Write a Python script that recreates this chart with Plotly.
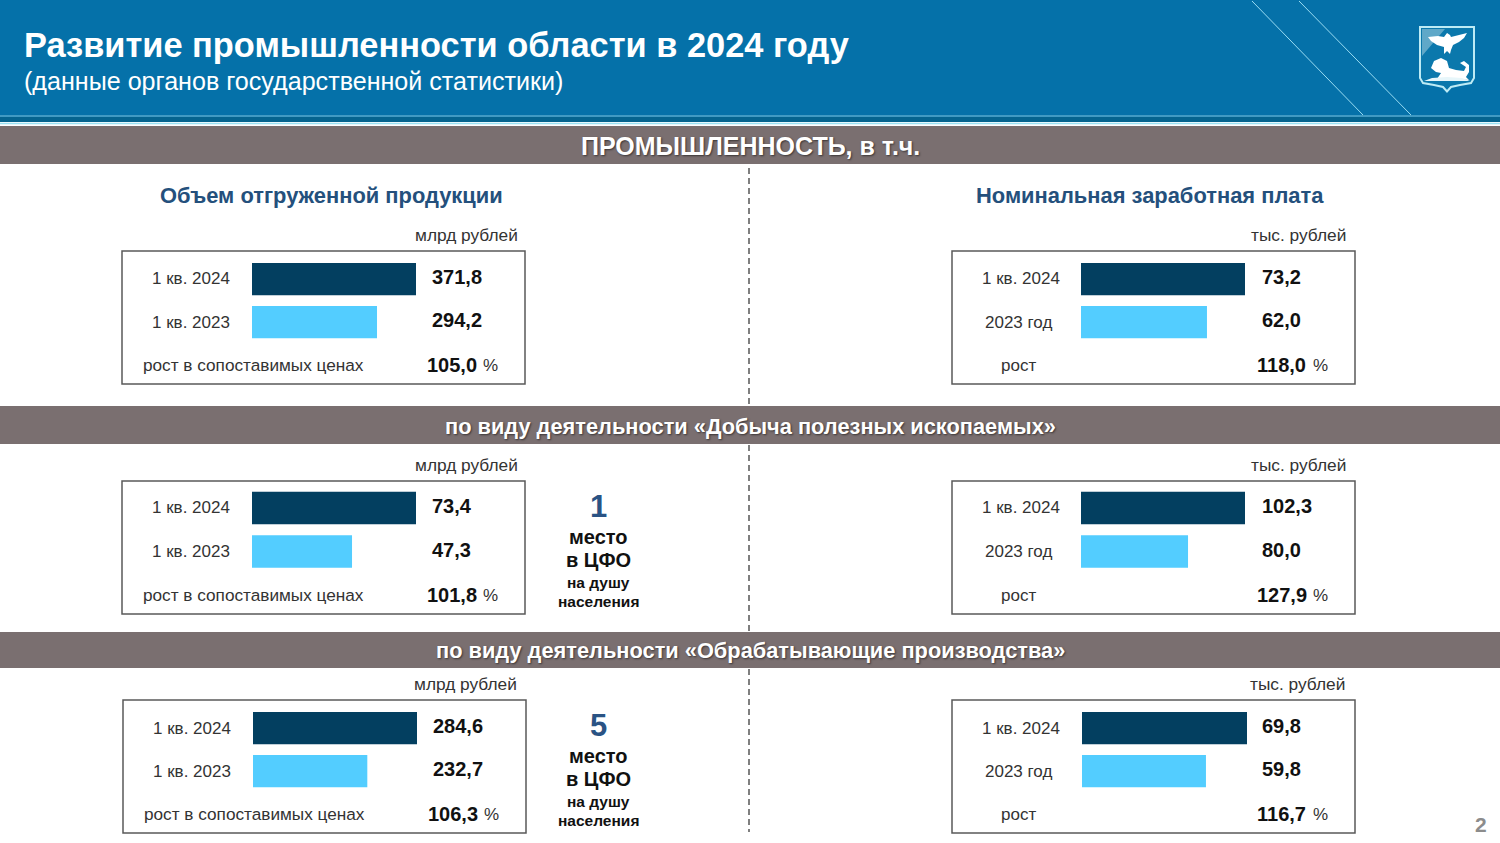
import plotly.graph_objects as go

W, H = 1500, 843

title_text = "Развитие промышленности области в 2024 году"
subtitle_text = "(данные органов государственной статистики)"
banner_texts = ["ПРОМЫШЛЕННОСТЬ, в т.ч.",
                "по виду деятельности «Добыча полезных ископаемых»",
                "по виду деятельности «Обрабатывающие производства»"]
column_titles = ["Объем отгруженной продукции", "Номинальная заработная плата"]

left_cats = ["1 кв. 2024", "1 кв. 2023"]
right_cats = ["1 кв. 2024", "2023 год"]
left_unit = "млрд рублей"
right_unit = "тыс. рублей"
left_growth_label = "рост в сопоставимых ценах"
right_growth_label = "рост"

shipped_total = [371.8, 294.2]
wage_total = [73.2, 62.0]
shipped_mining = [73.4, 47.3]
wage_mining = [102.3, 80.0]
shipped_manuf = [284.6, 232.7]
wage_manuf = [69.8, 59.8]
growth = [105.0, 118.0, 101.8, 127.9, 106.3, 116.7]

# the source chart's value axes do not start at zero
axis_starts = [45.4, 24.9, 6.5, 38.1, 113.3, 29.6]

rank_numbers = ["1", "5"]
rank_lines = ["место", "в ЦФО", "на душу", "населения"]
page_number = "2"

BLUE = "#0571A9"
GREY = "#7A6F70"
NAVY = "#033F60"
SKY = "#53CDFF"
TITLE_BLUE = "#24507C"
FONT = "Liberation Sans"


def px(x):
    return x / W


def py(y):
    return 1 - y / H


def comma(v):
    return f"{v:.1f}".replace(".", ",")


shapes, annotations = [], []


def rect(x0, y0, x1, y1, fill=None, line=None, lw=0):
    shapes.append(dict(type="rect", xref="paper", yref="paper", x0=px(x0), x1=px(x1), y0=py(y1), y1=py(y0),
                       fillcolor=fill or "rgba(0,0,0,0)", line=dict(color=line or "rgba(0,0,0,0)", width=lw),
                       layer="below"))


def seg(x0, y0, x1, y1, color, lw=1, dash="solid"):
    shapes.append(dict(type="line", xref="paper", yref="paper", x0=px(x0), x1=px(x1), y0=py(y0), y1=py(y1),
                       line=dict(color=color, width=lw, dash=dash), layer="below"))


def poly(points, fill, line=None, lw=0, close=True):
    d = "M" + " L".join(f"{px(a):.5f},{py(b):.5f}" for a, b in points) + (" Z" if close else "")
    shapes.append(dict(type="path", xref="paper", yref="paper", path=d, fillcolor=fill,
                       line=dict(color=line or "rgba(0,0,0,0)", width=lw), layer="above"))


def text(x, y, s, size, color="#333333", bold=False, anchor="left", shadow=None):
    font = dict(family=FONT, size=size, color=color, weight="bold" if bold else "normal")
    if shadow:
        font["shadow"] = shadow
    annotations.append(dict(x=px(x), y=py(y), xref="paper", yref="paper", text=s, showarrow=False,
                            xanchor=anchor, yanchor="middle", font=font, borderpad=0, borderwidth=0))


# header
rect(0, 0, W, 117, BLUE)
rect(0, 117, W, 122, "#05648F")
rect(0, 122, W, 126, "#FFFFFF")
seg(0, 116, W, 116, "#55A9CC", 1.5)
seg(0, 123.5, W, 123.5, "#9BE3F5", 1.5)
seg(1252, 1, 1363, 115, "#9ADCF2", 1)
seg(1299, 1, 1411, 115, "#9ADCF2", 1)
text(24, 45, title_text, 34.4, "#FFFFFF", True)
text(24, 81, subtitle_text, 25.1, "#FFFFFF")

# emblem
poly([(1420, 27), (1474, 27), (1474, 78), (1471, 83), (1460, 85), (1451, 87), (1447, 91.5),
      (1443, 87), (1434, 85), (1423, 83), (1420, 78)], "#0B78AC", "#BDEBF5", 2)
poly([(1422, 29), (1445, 29), (1422, 56)], "#5FA8C8")
poly([(1428, 37), (1438, 36), (1444, 37), (1447, 33), (1450, 35), (1451, 37), (1459, 35), (1467, 33),
      (1464, 38), (1459, 42), (1453, 45), (1451, 50), (1450, 54), (1447, 51), (1444, 54), (1444, 47),
      (1437, 45), (1431, 41)], "#FFFFFF")
poly([(1431, 68), (1434, 61), (1441, 58), (1447, 61), (1449, 68), (1456, 70), (1464, 71), (1466, 67),
      (1460, 63), (1464, 61), (1469, 65), (1469, 72), (1466, 77), (1469, 80), (1455, 79), (1445, 78),
      (1437, 79), (1441, 73), (1436, 72)], "#FFFFFF")
poly([(1424, 81), (1432, 78), (1447, 77), (1462, 78), (1470, 81), (1447, 81)], "#E7F6FA")

# section banners
banners = [(126, 164, 146, 25), (406, 444, 426, 21.8), (632, 668, 650, 21.8)]
for (y0, y1, yc, size), s in zip(banners, banner_texts):
    rect(0, y0, W, y1, GREY)
    text(750, yc, s, size, "#FFFFFF", True, "center", "1px 1px 2px #3A3536")

# column titles and divider
text(331, 195.5, column_titles[0], 21.9, TITLE_BLUE, True, "center")
text(1150, 195.5, column_titles[1], 21.9, TITLE_BLUE, True, "center")
for a, b in [(168, 405), (445, 631), (669, 832)]:
    seg(749, a, 749, b, "#555555", 1.5, "6px,4px")

# panels: box left, box top, bar left, centres of the two bars
panels = [
    (122, 251, 252, (279, 322), left_cats, shipped_total, left_unit, left_growth_label, 518, 416),
    (952, 251, 1081, (279, 322), right_cats, wage_total, right_unit, right_growth_label, 1346, 1245),
    (122, 481, 252, (508, 551.5), left_cats, shipped_mining, left_unit, left_growth_label, 518, 416),
    (952, 481, 1081, (508, 551.5), right_cats, wage_mining, right_unit, right_growth_label, 1346, 1245),
    (123, 700, 253, (728, 771), left_cats, shipped_manuf, left_unit, left_growth_label, 517, 417),
    (952, 700, 1082, (728, 771), right_cats, wage_manuf, right_unit, right_growth_label, 1345, 1247),
]

fig = go.Figure()
for i, (bx, by, bar_l, (c1, c2), cats, vals, unit, glabel, unit_r, bar_r) in enumerate(panels):
    n = i + 1
    suffix = "" if n == 1 else str(n)
    pitch = c2 - c1
    rect(bx, by, bx + 403, by + 133, "#FFFFFF", "#595959", 1.5)
    fig.add_trace(go.Bar(y=cats, x=vals, orientation="h", xaxis=f"x{suffix}", yaxis=f"y{suffix}",
                         marker=dict(color=[NAVY, SKY], line=dict(width=0)), width=0.75,
                         showlegend=False, hoverinfo="x+y"))
    fig.update_layout(**{
        f"xaxis{suffix}": dict(domain=[px(bar_l), px(bar_r)], range=[axis_starts[i], vals[0]], visible=False,
                               anchor=f"y{suffix}", fixedrange=True),
        f"yaxis{suffix}": dict(domain=[py(c2 + pitch / 2), py(c1 - pitch / 2)], type="category",
                               categoryorder="array", categoryarray=cats, autorange="reversed",
                               visible=False, anchor=f"x{suffix}", fixedrange=True),
    })
    text(unit_r, by - 16, unit, 17.3, "#333333", False, "right")
    col_c = bx + 68.5
    text(col_c, c1, cats[0], 17, "#333333", False, "center")
    text(col_c - (2 if i % 2 else 0), c2, cats[1], 17, "#333333", False, "center")
    vx = bx + 310
    text(vx, c1 - 2, comma(vals[0]), 20, "#111111", True)
    text(vx, c2 - 2, comma(vals[1]), 20, "#111111", True)
    gy = by + 114
    if i % 2 == 0:
        text(bx + 21, gy, glabel, 17.2, "#333333")
    else:
        text(bx + 49, gy, glabel, 17, "#333333")
    text(bx + 305, gy, comma(growth[i]), 20, "#111111", True)
    text(bx + 361, gy, "%", 17, "#333333")

# rank notes
for k, y in enumerate([506, 725]):
    text(598, y + (1 if k == 0 else 0), rank_numbers[k], 31, "#2A5384", True, "center")
    text(598, y + 31, rank_lines[0], 20, "#111111", True, "center")
    text(598, y + 54, rank_lines[1], 20, "#111111", True, "center")
    text(598, y + 76, rank_lines[2], 15.5, "#111111", True, "center")
    text(598, y + 95, rank_lines[3], 15.5, "#111111", True, "center")

text(1481, 824, page_number, 21, "#8C8C8C", True, "center")

fig.update_layout(width=W, height=H, margin=dict(l=0, r=0, t=0, b=0), autosize=False,
                  paper_bgcolor="#FFFFFF", plot_bgcolor="rgba(0,0,0,0)",
                  barmode="overlay", shapes=shapes, annotations=annotations, font=dict(family=FONT))
fig.write_html("out.html", config=dict(displayModeBar=False),
               post_script="document.body.style.margin='0';document.body.style.overflow='hidden';")
